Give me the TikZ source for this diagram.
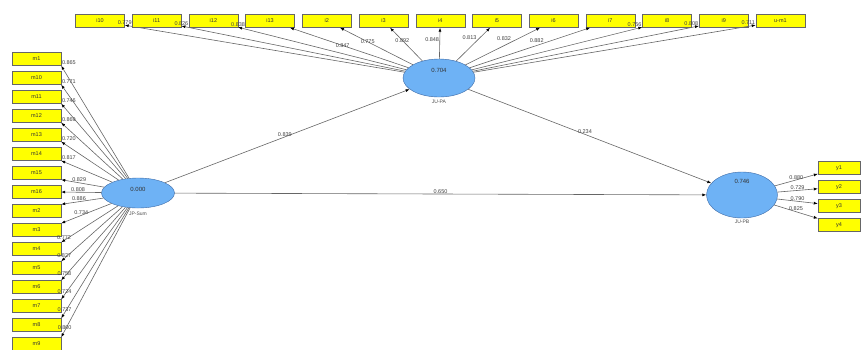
\documentclass[tikz,border=0pt]{standalone}
\usepackage{fontspec}
\setmainfont{Liberation Sans}
\usetikzlibrary{shapes.geometric,arrows.meta,positioning}

\definecolor{lvblue}{RGB}{110,178,245}
\definecolor{lvedge}{RGB}{60,105,165}
\definecolor{mvyellow}{RGB}{255,255,0}

\tikzset{
  mvbox/.style={draw=black!60, fill=mvyellow, minimum width=49pt, minimum height=13pt,
    inner sep=0pt, font=\fontsize{5.5}{6}\selectfont, text=black!80},
  lvnode/.style={ellipse, draw=lvedge, fill=lvblue, minimum width=73pt, inner sep=0pt},
  lvval/.style={font=\fontsize{6}{7}\selectfont, text=black!80, inner sep=0pt},
  lvname/.style={font=\fontsize{5}{6}\selectfont, text=black!70, inner sep=0pt},
  load/.style={draw=black!60, line width=0.6pt, -{Latex[length=4pt,width=3pt,color=black]}},
  coef/.style={font=\fontsize{5.5}{6}\selectfont, text=black!75, inner sep=0.5pt},
}

\begin{document}
\begin{tikzpicture}[x=1pt,y=-1pt]
  \useasboundingbox (0,0) rectangle (861,349);
  % Latent variables
  \node[lvnode, minimum height=30pt] (lvS) at (138,193) {};
  \node[lvnode, minimum height=38pt, minimum width=72pt] (lvA) at (439,78) {};
  \node[lvnode, minimum height=46pt, minimum width=71pt] (lvB) at (742,195) {};
  \node[lvval, below=9pt of lvS.north] (vS) {0.000};
  \node[lvval, below=9pt of lvA.north] (vA) {0.704};
  \node[lvval, below=7pt of lvB.north] (vB) {0.746};
  \node[lvname, below=4pt of lvS.south] (nS) {JP-Sum};
  \node[lvname, below=3pt of lvA.south] (nA) {JU-PA};
  \node[lvname, below=2pt of lvB.south] (nB) {JU-PB};
  % Top indicators (lvA)
  \foreach \nm/\v/\p/\anc [count=\i from 0] in {
      i10/0.779/1/south, i11/0.826/1/south, i12/0.838/1/south,
      i13/0.847/0.62/north west, i2/0.775/0.62/center, i3/0.892/0.62/center,
      i4/0.848/0.62/east, i5/0.813/0.62/south east, i6/0.832/0.62/south east,
      i7/0.882/0.62/south east, i8/0.756/1/south east, i9/0.808/1/south east,
      u-m1/0.711/1/south east}
  {
    \node[mvbox] (\nm) at ({100+56.7*\i},21) {\nm};
    \draw[load] (lvA) -- (\nm) node[coef, pos=\p, anchor=\anc] {\v};
  }
  % Left indicators (lvS)
  \foreach \nm/\v/\p/\anc/\tgt [count=\i from 0] in {
      m1/0.865/1/south west/south east, m10/0.771/1/south west/south east,
      m11/0.746/1/south west/south east, m12/0.869/1/south west/south east,
      m13/0.720/1/south west/south east, m14/0.817/1/south west/south east,
      m15/0.829/0.58/south/south east, m16/0.808/0.58/south/east,
      m2/0.886/0.58/south/north east, m3/0.734/0.6/south/north east,
      m4/0.772/0.95/south/north east, m5/0.827/0.95/south/north east,
      m6/0.758/0.95/south/north east, m7/0.724/0.95/south/north east,
      m8/0.737/0.95/south/north east, m9/0.800/0.95/south/north east}
  {
    \node[mvbox] (\nm) at (36.5,{59+19*\i}) {\nm};
    \draw[load] (lvS) -- (\nm.\tgt) node[coef, pos=\p, anchor=\anc] {\v};
  }
  % Right indicators (lvB)
  \foreach \nm/\v [count=\i from 0] in {y1/0.880, y2/0.729, y3/0.790, y4/0.825}
  {
    \node[mvbox, minimum width=42pt] (\nm) at (839,{168+19*\i}) {\nm};
    \draw[load] (lvB) -- node[coef, pos=0.5, above] {\v} (\nm);
  }
  % Structural paths
  \draw[load] (lvS) -- node[coef, pos=0.49, above] {0.839} (lvA);
  \draw[load] (lvA) -- node[coef, pos=0.48, above] {0.234} (lvB);
  \draw[load] (lvS) -- node[coef, pos=0.5, above] {0.650} (lvB);
\end{tikzpicture}
\end{document}
